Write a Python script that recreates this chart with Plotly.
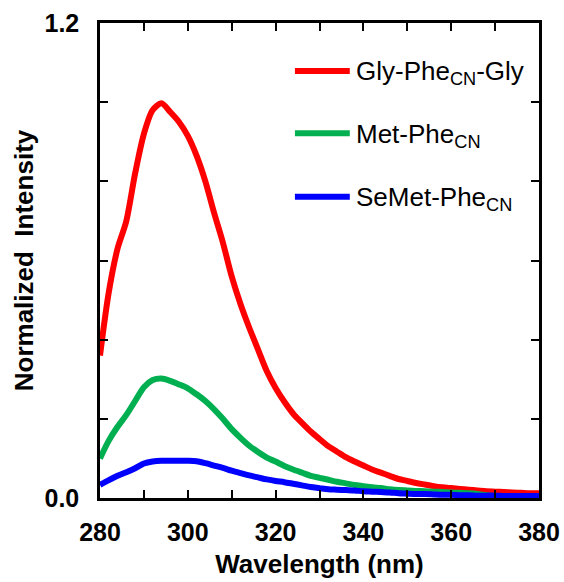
import plotly.graph_objects as go

wavelength = list(range(280, 381, 2))

gly_phe_gly = [0.36, 0.52, 0.63, 0.70, 0.82, 0.92, 0.98, 0.997, 0.975, 0.95,
               0.915, 0.865, 0.80, 0.72, 0.645, 0.56, 0.49, 0.43, 0.375, 0.32,
               0.278, 0.243, 0.213, 0.19, 0.168, 0.149, 0.131, 0.117, 0.103, 0.092,
               0.082, 0.072, 0.064, 0.056, 0.048, 0.043, 0.038, 0.034, 0.030, 0.027,
               0.025, 0.023, 0.021, 0.019, 0.017, 0.016, 0.015, 0.014, 0.013, 0.012,
               0.012]

met_phe = [0.10, 0.145, 0.18, 0.21, 0.245, 0.28, 0.298, 0.302, 0.296, 0.287,
           0.277, 0.262, 0.245, 0.224, 0.200, 0.174, 0.152, 0.132, 0.116, 0.102,
           0.092, 0.081, 0.072, 0.064, 0.056, 0.051, 0.046, 0.041, 0.037, 0.033,
           0.030, 0.027, 0.025, 0.022, 0.020, 0.019, 0.018, 0.017, 0.016, 0.015,
           0.014, 0.013, 0.012, 0.010, 0.007, 0.005, 0.004, 0.004, 0.004, 0.004,
           0.004]

semet_phe = [0.033, 0.045, 0.056, 0.065, 0.075, 0.087, 0.092, 0.094, 0.094, 0.094,
             0.094, 0.093, 0.088, 0.082, 0.076, 0.069, 0.063, 0.057, 0.052, 0.047,
             0.043, 0.040, 0.036, 0.032, 0.028, 0.025, 0.022, 0.021, 0.020, 0.019,
             0.017, 0.016, 0.015, 0.014, 0.012, 0.011, 0.010, 0.010, 0.009, 0.008,
             0.008, 0.007, 0.007, 0.006, 0.006, 0.006, 0.005, 0.005, 0.005, 0.005,
             0.005]

series_names = ["Gly-Phe<sub>CN</sub>-Gly", "Met-Phe<sub>CN</sub>", "SeMet-Phe<sub>CN</sub>"]
series_values = [gly_phe_gly, met_phe, semet_phe]
colors = ["#FF0000", "#00B050", "#0000FF"]

x_tickvals = list(range(280, 381, 10))
x_ticktext = [str(v) if v % 20 == 0 else "" for v in x_tickvals]
y_tickvals = [0, 0.2, 0.4, 0.6, 0.8, 1.0, 1.2]
y_ticktext = ["0.0", "", "", "", "", "", "1.2"]

FONT = "Liberation Sans, Arial, sans-serif"

fig = go.Figure()
for name, vals, c in zip(series_names, series_values, colors):
    fig.add_trace(go.Scatter(x=wavelength, y=vals, mode="lines", name=name,
                             line=dict(color=c, width=6, shape="spline", smoothing=0.8),
                             showlegend=False))

# manual legend
legend_y = [0.899, 0.768, 0.634]
for name, c, ly in zip(series_names, colors, legend_y):
    fig.add_shape(type="line", xref="paper", yref="paper",
                  x0=0.444, x1=0.569, y0=ly, y1=ly,
                  line=dict(color=c, width=6))
    fig.add_annotation(xref="paper", yref="paper", x=0.578, y=ly - 0.004,
                       text=name, showarrow=False, xanchor="left", yanchor="middle",
                       font=dict(family=FONT, size=26, color="black"))

axis_common = dict(showline=True, linecolor="black", linewidth=2.5, mirror="ticks",
                   ticks="inside", ticklen=8, tickwidth=2, tickcolor="black",
                   showgrid=False, zeroline=False, automargin=False,
                   tickfont=dict(family=FONT, size=25, color="black", weight="bold"))

fig.update_xaxes(range=[280, 380], tickvals=x_tickvals, ticktext=x_ticktext,
                 ticklabelstandoff=10,
                 title=dict(text="<b>Wavelength (nm)</b>", standoff=11,
                            font=dict(family=FONT, size=26, color="black")),
                 **axis_common)
fig.update_yaxes(range=[0, 1.2], tickvals=y_tickvals, ticktext=y_ticktext,
                 ticklabelstandoff=13,
                 title=dict(text="<b>Normalized  Intensity</b>", standoff=4,
                            font=dict(family=FONT, size=26, color="black")),
                 **axis_common)

fig.update_layout(width=564, height=582,
                  margin=dict(l=100, r=25, t=23, b=84),
                  plot_bgcolor="white", paper_bgcolor="white",
                  font=dict(family=FONT, color="black"))

fig.write_html("out.html")
